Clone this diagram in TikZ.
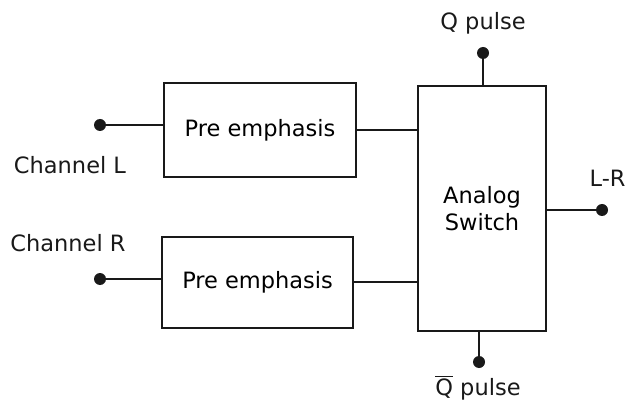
\documentclass[tikz,border=0pt]{standalone}
\usepackage{fontspec}
\setmainfont{DejaVu Sans}
\usepackage{tikz}
\usetikzlibrary{positioning, calc}
\definecolor{mydark}{RGB}{25,25,25}
\tikzset{
  block/.style={rectangle,draw=mydark,line width=1.4pt,inner sep=0pt,
    font=\fontsize{16}{19}\selectfont,align=center},
  term/.style={circle,fill=mydark,inner sep=0pt,minimum size=0.3cm},
  lbl/.style={font=\fontsize{16}{19}\selectfont,color=mydark,inner sep=0pt},
  line/.style={line width=1.4pt,color=mydark}
}
\begin{document}
\begin{tikzpicture}
  \useasboundingbox (0,0) rectangle (15.65,10.1);

  % Pre emphasis blocks
  \node[block, minimum width=4.8cm, minimum height=2.35cm] (preL) at (6.5,6.85) {Pre emphasis};
  \node[block, minimum width=4.78cm, minimum height=2.28cm] (preR) at (6.44,3.04) {Pre emphasis};

  % Switch
  \node[block, minimum width=3.2cm, minimum height=6.125cm] (sw) at (12.05,4.89) {Analog\\Switch};

  % Inputs
  \node[term] (inL) at (2.5,6.975) {};
  \node[term] (inR) at (2.5,3.125) {};
  \node[lbl] (chL) at (1.75,5.975) {Channel L};
  \node[lbl] (chR) at (1.7,4.025) {Channel R};
  \draw[line] (inL) -- (inL -| preL.west);
  \draw[line] (inR) -- (inR -| preR.west);

  % Block to switch
  \draw[line] (preL.east) -- (preL.east -| sw.west);
  \draw[line] (preR.east) -- (preR.east -| sw.west);

  % Pulses
  \node[term] (qp) at (12.075,8.775) {};
  \node[lbl] (qlbl) at (12.075,9.525) {Q pulse};
  \draw[line] (qp) -- (qp |- sw.north);
  \node[term] (qbp) at (11.975,1.05) {};
  \node[lbl] (qblbl) at (11.95,0.4) {\mbox{$\overline{\mbox{Q}}$} pulse};
  \draw[line] (qbp) -- (qbp |- sw.south);

  % Output
  \node[term] (out) at (15.05,4.85) {};
  \node[lbl] (outlbl) at (15.19,5.65) {L-R};
  \draw[line] (out) -- (out -| sw.east);
\end{tikzpicture}
\end{document}
